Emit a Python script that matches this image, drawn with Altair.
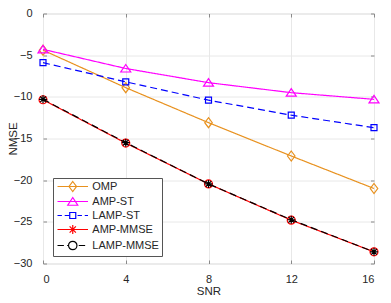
import altair as alt
import pandas as pd

# ---------------- data ----------------
snr = [0, 4, 8, 12, 16]
series_names = ["OMP", "AMP-ST", "LAMP-ST", "AMP-MMSE", "LAMP-MMSE"]
omp = [-4.4, -8.9, -13.1, -17.1, -21.0]
amp_st = [-4.3, -6.6, -8.3, -9.5, -10.3]
lamp_st = [-5.9, -8.2, -10.4, -12.2, -13.7]
amp_mmse = [-10.35, -15.55, -20.45, -24.8, -28.6]
lamp_mmse = [-10.3, -15.5, -20.45, -24.75, -28.6]
x_ticks = [0, 4, 8, 12, 16]
y_ticks = [0, -5, -10, -15, -20, -25, -30]

series_values = [omp, amp_st, lamp_st, amp_mmse, lamp_mmse]
rows = []
for name, vals in zip(series_names, series_values):
    for s, v in zip(snr, vals):
        rows.append({"series": name, "snr": s, "nmse": v})
df = pd.DataFrame(rows)

# ---------------- styles ----------------
colors = ["#E8911E", "#FF00FF", "#0000FF", "#FF0000", "#000000"]
dashes = [[1, 0], [1, 0], [7, 4], [1, 0], [7, 4]]
marker_paths = [
    "M0,-1L0.75,0L0,1L-0.75,0Z",
    "M0,-0.8L1,0.7L-1,0.7Z",
    "M-1,-1H1V1H-1Z",
    "circle",
    "M0,-1V1M-1,0H1M-0.7,-0.7L0.7,0.7M-0.7,0.7L0.7,-0.7",
]
marker_sizes = [100, 100, 36, 64, 64]

# legend symbols: line segment plus marker, in units of 4 px
L0, L1, CX = -1.0, 6.625, 2.8125


def line_part(x0, x1, dash):
    if dash is None:
        return f"M{x0:.3f},0H{x1:.3f}"
    d, g = dash
    out = []
    x = x0
    while x < x1:
        e = min(x + d, x1)
        out.append(f"M{x:.3f},0H{e:.3f}")
        x = e + g
    return "".join(out)


def legend_path(kind, dash):
    if kind == "diamond":
        m = f"M{CX},-1.25L{CX+0.94},0L{CX},1.25L{CX-0.94},0Z"
        hw = 0.94
    elif kind == "triangle":
        m = f"M{CX},-1.0L{CX+1.25},0.94L{CX-1.25},0.94Z"
        hw = 1.25
    elif kind == "square":
        m = f"M{CX-0.75},-0.75H{CX+0.75}V0.75H{CX-0.75}Z"
        hw = 0.75
    elif kind == "asterisk":
        m = (f"M{CX},-1.1V1.1M{CX-1.1},0H{CX+1.1}"
             f"M{CX-0.78},-0.78L{CX+0.78},0.78M{CX-0.78},0.78L{CX+0.78},-0.78")
        hw = 0
    else:
        r = 1.05
        m = f"M{CX+r},0A{r},{r} 0 1,1 {CX-r},0A{r},{r} 0 1,1 {CX+r},0Z"
        hw = r
    if dash is None:
        return f"M{L0},0H{L1}" + m
    return line_part(L0, CX - hw - 0.15, dash) + m + line_part(CX + hw + 0.45, L1, dash)


legend_shapes = [
    legend_path("diamond", None),
    legend_path("triangle", None),
    legend_path("square", (1.1, 0.7)),
    legend_path("asterisk", None),
    legend_path("circle", (1.6, 0.8)),
]

W, H = 331, 250
FONT = "Liberation Sans"
TXT = "#262626"
FRAME = "#8a8a8a"

xscale = alt.Scale(domain=[0, 16], nice=False, zero=False)
yscale = alt.Scale(domain=[-30, 0], nice=False, zero=False)

ax_grid_x = alt.Axis(orient="bottom", values=x_ticks, grid=True, gridColor="#e8e8e8",
                     ticks=False, labels=False, domain=False, title=None)
ax_grid_y = alt.Axis(orient="left", values=y_ticks, grid=True, gridColor="#e8e8e8",
                     ticks=False, labels=False, domain=False, title=None)
ax_main_x = alt.Axis(orient="bottom", values=x_ticks, grid=False, domain=False,
                     offset=-3.5, tickSize=3.5, tickColor=FRAME, labelPadding=10,
                     labelFont=FONT, labelFontSize=11, labelColor=TXT,
                     title="SNR", titleFont=FONT, titleFontSize=11.5, titleColor=TXT,
                     titleFontWeight="normal", titlePadding=1)
ax_main_y = alt.Axis(orient="left", values=y_ticks, grid=False, domain=False,
                     offset=-3.5, tickSize=3.5, tickColor=FRAME, labelPadding=11,
                     labelFont=FONT, labelFontSize=11, labelColor=TXT,
                     title="NMSE", titleFont=FONT, titleFontSize=11.5, titleColor=TXT,
                     titleFontWeight="normal", titleAngle=270, titleAlign="center",
                     titleBaseline="alphabetic", titleX=-30, titleY=H / 2)
ax_top_x = alt.Axis(orient="top", values=x_ticks, grid=False, domain=False,
                    offset=-3.5, tickSize=3.5, tickColor=FRAME, labels=False, title=None)
ax_right_y = alt.Axis(orient="right", values=y_ticks, grid=False, domain=False,
                      offset=-3.5, tickSize=3.5, tickColor=FRAME, labels=False, title=None)

axis_sets = [(ax_grid_x, ax_grid_y), (ax_main_x, ax_main_y), (ax_top_x, ax_right_y)]

base = alt.Chart(df)
layers = []
k = 0
for i, name in enumerate(series_names):
    flt = alt.datum.series == name
    for part in ("line", "point"):
        if k < len(axis_sets):
            axx, axy = axis_sets[k]
        else:
            axx, axy = None, None
        xenc = alt.X("snr:Q", scale=xscale, axis=axx)
        yenc = alt.Y("nmse:Q", scale=yscale, axis=axy)
        if part == "line":
            m = base.mark_line(color=colors[i], strokeWidth=1.2, strokeDash=dashes[i])
        else:
            m = base.mark_point(shape=marker_paths[i], size=marker_sizes[i], filled=False,
                                color=colors[i], strokeWidth=1.2, opacity=1)
        layers.append(m.encode(x=xenc, y=yenc).transform_filter(flt))
        k += 1

leg = dict(title=None, titlePadding=0, orient="none", legendX=10, legendY=164.5,
           symbolSize=64, symbolStrokeWidth=1.2,
           labelOffset=25.3, labelFont=FONT, labelFontSize=11,
           labelColor=TXT, rowPadding=1, padding=3,
           fillColor="white", strokeColor="#555555")

legend_layer = base.mark_point(filled=False, size=64, strokeWidth=1.2, opacity=1).encode(
    x=alt.X("snr:Q", scale=xscale, axis=None),
    y=alt.Y("nmse:Q", scale=yscale, axis=None),
    color=alt.Color("series:N", scale=alt.Scale(domain=series_names, range=colors),
                    legend=alt.Legend(**leg)),
    shape=alt.Shape("series:N", scale=alt.Scale(domain=series_names, range=legend_shapes),
                    legend=alt.Legend(**leg)),
).transform_filter(alt.datum.nmse > 100)

chart = alt.layer(*layers, legend_layer).resolve_axis(
    x="independent", y="independent"
).properties(
    width=W, height=H,
    autosize=alt.AutoSizeParams(type="none"),
    padding={"left": 35, "top": 5.5, "right": 9, "bottom": 32},
).configure_view(
    stroke=FRAME, strokeWidth=1
).configure(background="white")

chart.save("out.html", embed_options={"renderer": "svg", "actions": False})
